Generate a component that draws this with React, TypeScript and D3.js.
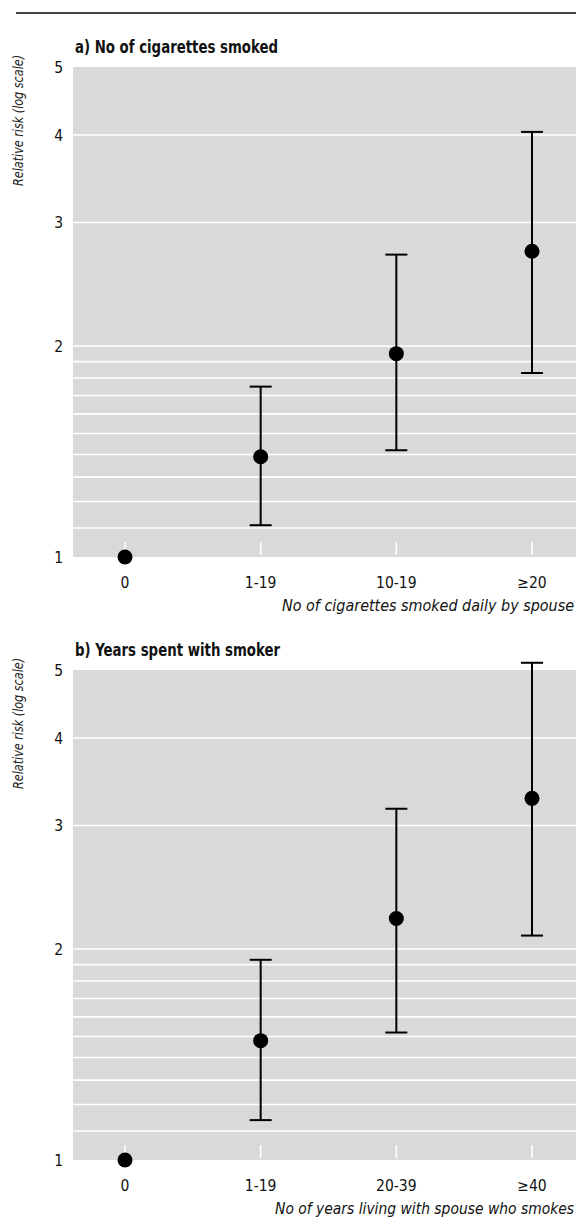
import React from 'react'
import { scaleLog, scalePoint } from 'd3'

// panel a: number of cigarettes smoked daily by spouse
const catsA = ['0', '1-19', '10-19', '≥20']
const rrA = [1, 1.39, 1.95, 2.73]
const loA = [null, 1.11, 1.42, 1.83]
const hiA = [null, 1.75, 2.7, 4.04]

// panel b: years living with a smoker
const catsB = ['0', '1-19', '20-39', '≥40']
const rrB = [1, 1.48, 2.21, 3.28]
const loB = [null, 1.14, 1.52, 2.09]
const hiB = [null, 1.93, 3.17, 5.12]

const yTickLabels = [1, 2, 3, 4, 5]
const gridValues = [1.1, 1.2, 1.3, 1.4, 1.5, 1.6, 1.7, 1.8, 1.9, 2, 3, 4]

const W = 576
const H = 1220
const narrow = '"Liberation Sans Narrow", "Arial Narrow", "DejaVu Sans Condensed", "Liberation Sans", sans-serif'

const plotLeft = 73
const plotRight = 576
const plotH = 490

function Panel({ top, title, titleLen, xTitle, xTitleLen, cats, rr, lo, hi }: any) {
  const y = scaleLog().domain([1, 5]).range([top + plotH, top])
  const x = scalePoint().domain(cats).range([125, 532])
  const bottom = top + plotH

  return (
    <g>
      <text
        x={75}
        y={top - 14}
        fontFamily={narrow}
        fontWeight="bold"
        fontSize={17}
        fill="#111"
        textLength={titleLen}
        lengthAdjust="spacingAndGlyphs"
      >
        {title}
      </text>
      <text
        transform={`translate(23,${top - 12}) rotate(-90)`}
        textAnchor="end"
        fontFamily={narrow}
        fontStyle="italic"
        fontSize={14.5}
        fill="#222"
        textLength={131}
        lengthAdjust="spacingAndGlyphs"
      >
        Relative risk (log scale)
      </text>

      <rect x={plotLeft} y={top} width={plotRight - plotLeft} height={plotH} fill="#d9d9d9" />

      {gridValues.map(v => (
        <line key={v} x1={plotLeft} x2={plotRight} y1={y(v)} y2={y(v)} stroke="#fff" strokeWidth={1.6} />
      ))}

      {cats.map((c: string) => (
        <line key={c} x1={x(c)} x2={x(c)} y1={bottom - 15} y2={bottom - 2} stroke="#fff" strokeWidth={1.6} />
      ))}

      {yTickLabels.map(v => (
        <text key={v} x={63} y={y(v)} dy="0.36em" textAnchor="end" fontFamily={narrow} fontSize={15.5} fill="#111">
          {v}
        </text>
      ))}

      {cats.map((c: string) => (
        <text key={c} x={x(c)} y={bottom + 31} textAnchor="middle" fontFamily={narrow} fontSize={15.5} fill="#111">
          {c}
        </text>
      ))}

      <text
        x={574}
        y={bottom + 54}
        textAnchor="end"
        fontFamily={narrow}
        fontStyle="italic"
        fontSize={15.5}
        fill="#111"
        textLength={xTitleLen}
        lengthAdjust="spacingAndGlyphs"
      >
        {xTitle}
      </text>

      {cats.map((c: string, i: number) =>
        lo[i] == null ? null : (
          <g key={c} stroke="#000" strokeWidth={2}>
            <line x1={x(c)} x2={x(c)} y1={y(lo[i])} y2={y(hi[i])} />
            <line x1={x(c)! - 11} x2={x(c)! + 11} y1={y(lo[i])} y2={y(lo[i])} />
            <line x1={x(c)! - 11} x2={x(c)! + 11} y1={y(hi[i])} y2={y(hi[i])} />
          </g>
        )
      )}

      {cats.map((c: string, i: number) => (
        <circle key={c} cx={x(c)} cy={y(rr[i])} r={7.5} fill="#000" />
      ))}
    </g>
  )
}

export default function App() {
  return (
    <svg width={W} height={H} style={{ position: 'absolute', left: 0, top: 0, background: '#fff' }}>
      <line x1={16} x2={W} y1={13} y2={13} stroke="#444" strokeWidth={2} />
      <Panel
        top={67}
        title="a) No of cigarettes smoked"
        titleLen={203}
        xTitle="No of cigarettes smoked daily by spouse"
        xTitleLen={292}
        cats={catsA}
        rr={rrA}
        lo={loA}
        hi={hiA}
      />
      <Panel
        top={670}
        title="b) Years spent with smoker"
        titleLen={205}
        xTitle="No of years living with spouse who smokes"
        xTitleLen={299}
        cats={catsB}
        rr={rrB}
        lo={loB}
        hi={hiB}
      />
    </svg>
  )
}
